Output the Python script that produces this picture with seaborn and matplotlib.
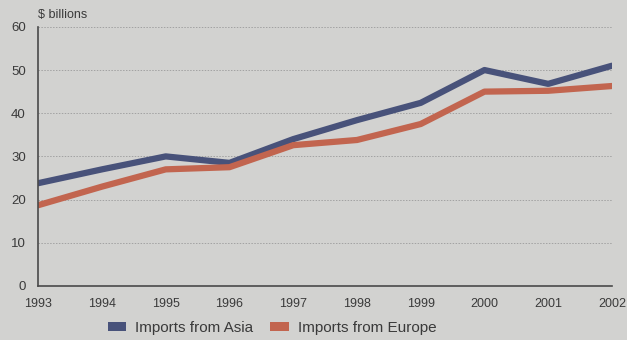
import matplotlib
matplotlib.use("Agg")
import matplotlib.pyplot as plt
import seaborn as sns
import pandas as pd
from matplotlib.patches import Patch

years = [1993, 1994, 1995, 1996, 1997, 1998, 1999, 2000, 2001, 2002]
asia = [23.8, 27.0, 30.0, 28.5, 34.0, 38.4, 42.4, 50.0, 46.8, 51.0]
europe = [18.7, 23.0, 27.0, 27.5, 32.6, 33.8, 37.5, 45.0, 45.2, 46.3]
series_names = ["Imports from Asia", "Imports from Europe"]
yticks = [0, 10, 20, 30, 40, 50, 60]

df = pd.DataFrame({"Year": years * 2,
                   "Value": asia + europe,
                   "Series": [series_names[0]] * len(years) + [series_names[1]] * len(years)})

sns.set_style("white")
plt.rcParams['font.family'] = ['Liberation Sans', 'DejaVu Sans']
bg = "#d2d2d0"
colors = {series_names[0]: "#48527a", series_names[1]: "#c2654f"}

fig = plt.figure(figsize=(6.27, 3.4), dpi=100, facecolor=bg)
ax = fig.add_axes([0.061, 0.159, 0.915, 0.762])
ax.set_facecolor(bg)

sns.lineplot(data=df, x="Year", y="Value", hue="Series", palette=colors,
             linewidth=4.5, ax=ax, legend=False)

ax.set_xlim(1993, 2002)
ax.set_ylim(0, 60)
ax.set_xticks(years)
ax.set_xticklabels([str(y) for y in years], fontsize=9, color="#3a3a3a")
ax.set_yticks(yticks)
ax.set_yticklabels([str(v) for v in yticks], fontsize=9.5, color="#3a3a3a")
ax.tick_params(axis="x", length=0, pad=9)
ax.tick_params(axis="y", length=0, pad=9)
ax.set_xlabel("")
ax.set_ylabel("")
for y in yticks[1:]:
    ax.axhline(y, color="#a2a2a2", linestyle=(0, (1.5, 1.5)), linewidth=0.7, zorder=0)
for s in ["top", "right"]:
    ax.spines[s].set_visible(False)
for s in ["left", "bottom"]:
    ax.spines[s].set_color("#4a4a4a")
    ax.spines[s].set_linewidth(1.2)

fig.text(0.061, 0.955, "$ billions", fontsize=9, color="#3a3a3a", va="center", ha="left")

handles = [Patch(facecolor=colors[n], edgecolor="none") for n in series_names]
fig.legend(handles, series_names, loc="center", bbox_to_anchor=(0.434, 0.035),
           ncol=2, frameon=False, fontsize=11, handlelength=1.2, handleheight=0.5,
           handletextpad=0.6, columnspacing=1.1, labelcolor="#3a3a3a")

fig.savefig("out.png", dpi=100, facecolor=bg)
